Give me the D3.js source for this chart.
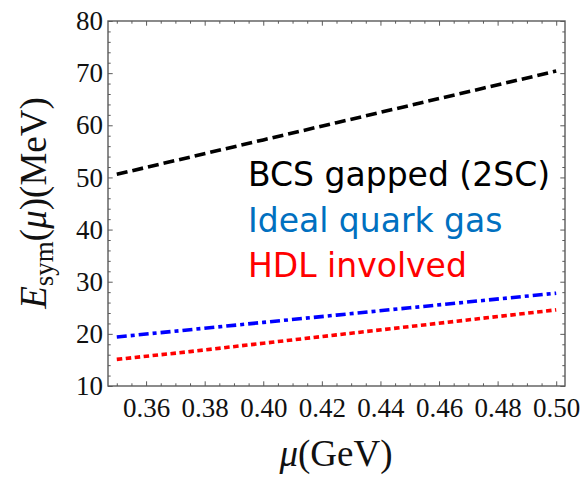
<!DOCTYPE html>
<html>
<head>
<meta charset="utf-8">
<script src="https://cdn.jsdelivr.net/npm/d3@7"></script>
<style>
  body { margin: 0; background: #fff; }
  svg { display: block; }
</style>
</head>
<body>
<script>
// chemical potential (GeV)
const MU = [0.35, 0.375, 0.40, 0.425, 0.45, 0.475, 0.50];
// symmetry energy (MeV) per model
const BCS = [50.6, 53.9, 57.2, 60.5, 63.8, 67.1, 70.4];
const IDEAL = [19.4, 20.8, 22.2, 23.6, 25.0, 26.4, 27.8];
const HDL = [15.1, 16.6, 18.2, 19.8, 21.4, 23.0, 24.6];

const X_TICKS = [0.36, 0.38, 0.40, 0.42, 0.44, 0.46, 0.48, 0.50];
const Y_TICKS = [10, 20, 30, 40, 50, 60, 70, 80];
const LEGEND = ["BCS gapped (2SC)", "Ideal quark gas", "HDL involved"];

const width = 586, height = 478;
const plotLeft = 108, plotRight = 565, plotTop = 21, plotBottom = 386;
const SERIF = "'Liberation Serif', 'Times New Roman', serif";
const SANS = "'DejaVu Sans', sans-serif";

const svg = d3.select("body").append("svg")
    .attr("width", width)
    .attr("height", height);

const x = d3.scaleLinear().domain([0.347, 0.503]).range([plotLeft, plotRight]);
const y = d3.scaleLinear().domain([10, 80]).range([plotBottom, plotTop]);

const xMinor = d3.range(0.35, 0.5001, 0.005)
    .filter(v => !X_TICKS.some(t => Math.abs(t - v) < 1e-6));
const yMinor = d3.range(10, 80.001, 2)
    .filter(v => v % 10 !== 0);

const frameColor = "#5a5a5a";

// minor ticks on all four sides
const minorAxes = [
    [d3.axisBottom(x), `translate(0,${plotBottom})`, xMinor],
    [d3.axisTop(x), `translate(0,${plotTop})`, xMinor],
    [d3.axisLeft(y), `translate(${plotLeft},0)`, yMinor],
    [d3.axisRight(y), `translate(${plotRight},0)`, yMinor]
];
minorAxes.forEach(([ax, tr, vals]) => {
    svg.append("g")
        .attr("transform", tr)
        .call(ax.tickValues(vals).tickSizeInner(-2.7).tickSizeOuter(0).tickFormat(""));
});

// major ticks
svg.append("g")
    .attr("transform", `translate(0,${plotBottom})`)
    .call(d3.axisBottom(x).tickValues(X_TICKS).tickSizeInner(-4.7).tickSizeOuter(0)
        .tickPadding(12).tickFormat(d3.format(".2f")));
svg.append("g")
    .attr("transform", `translate(0,${plotTop})`)
    .call(d3.axisTop(x).tickValues(X_TICKS).tickSizeInner(-4.7).tickSizeOuter(0).tickFormat(""));
svg.append("g")
    .attr("transform", `translate(${plotLeft},0)`)
    .call(d3.axisLeft(y).tickValues(Y_TICKS).tickSizeInner(-4.7).tickSizeOuter(0).tickPadding(5));
svg.append("g")
    .attr("transform", `translate(${plotRight},0)`)
    .call(d3.axisRight(y).tickValues(Y_TICKS).tickSizeInner(-4.7).tickSizeOuter(0).tickFormat(""));

svg.selectAll(".domain").remove();
svg.selectAll(".tick line").attr("stroke", frameColor);
svg.selectAll(".tick text")
    .style("font-family", SERIF)
    .style("font-size", "27px")
    .attr("fill", "#111");

// frame
svg.append("rect")
    .attr("x", plotLeft).attr("y", plotTop)
    .attr("width", plotRight - plotLeft).attr("height", plotBottom - plotTop)
    .attr("fill", "none")
    .attr("stroke", frameColor)
    .attr("stroke-width", 1.4);

// curves
const series = [
    { vals: BCS, color: "#000000", dash: "11,5" },
    { vals: IDEAL, color: "#0000ff", dash: "10,4,4,4" },
    { vals: HDL, color: "#ff0000", dash: "5.5,3.5" }
];
const line = d3.line().x(d => x(d[0])).y(d => y(d[1]));
series.forEach(s => {
    svg.append("path")
        .datum(MU.map((m, i) => [m, s.vals[i]]))
        .attr("d", line)
        .attr("fill", "none")
        .attr("stroke", s.color)
        .attr("stroke-width", 3.6)
        .attr("stroke-dasharray", s.dash);
});

// legend text
const legendColors = ["#000000", "#0070c0", "#ff0000"];
svg.selectAll(".legend")
    .data(LEGEND)
    .enter()
    .append("text")
    .attr("class", "legend")
    .attr("x", 248)
    .attr("y", (d, i) => 186 + i * 45.5)
    .style("font-family", SANS)
    .style("font-size", "33px")
    .attr("fill", (d, i) => legendColors[i])
    .text(d => d);

// y label
const yl = svg.append("text")
    .attr("transform", "translate(46,203) rotate(-90)")
    .attr("text-anchor", "middle")
    .style("font-family", SERIF)
    .style("font-size", "37px")
    .attr("fill", "#111");
yl.append("tspan").style("font-style", "italic").text("E");
yl.append("tspan").style("font-size", "27px").attr("dy", 7).text("sym");
yl.append("tspan").attr("dy", -7).text("(");
yl.append("tspan").style("font-style", "italic").text("μ");
yl.append("tspan").text(")(MeV)");

// x label
const xl = svg.append("text")
    .attr("x", 336)
    .attr("y", 466)
    .attr("text-anchor", "middle")
    .style("font-family", SERIF)
    .style("font-size", "37px")
    .attr("fill", "#111");
xl.append("tspan").style("font-style", "italic").text("μ");
xl.append("tspan").text("(GeV)");
</script>
</body>
</html>
